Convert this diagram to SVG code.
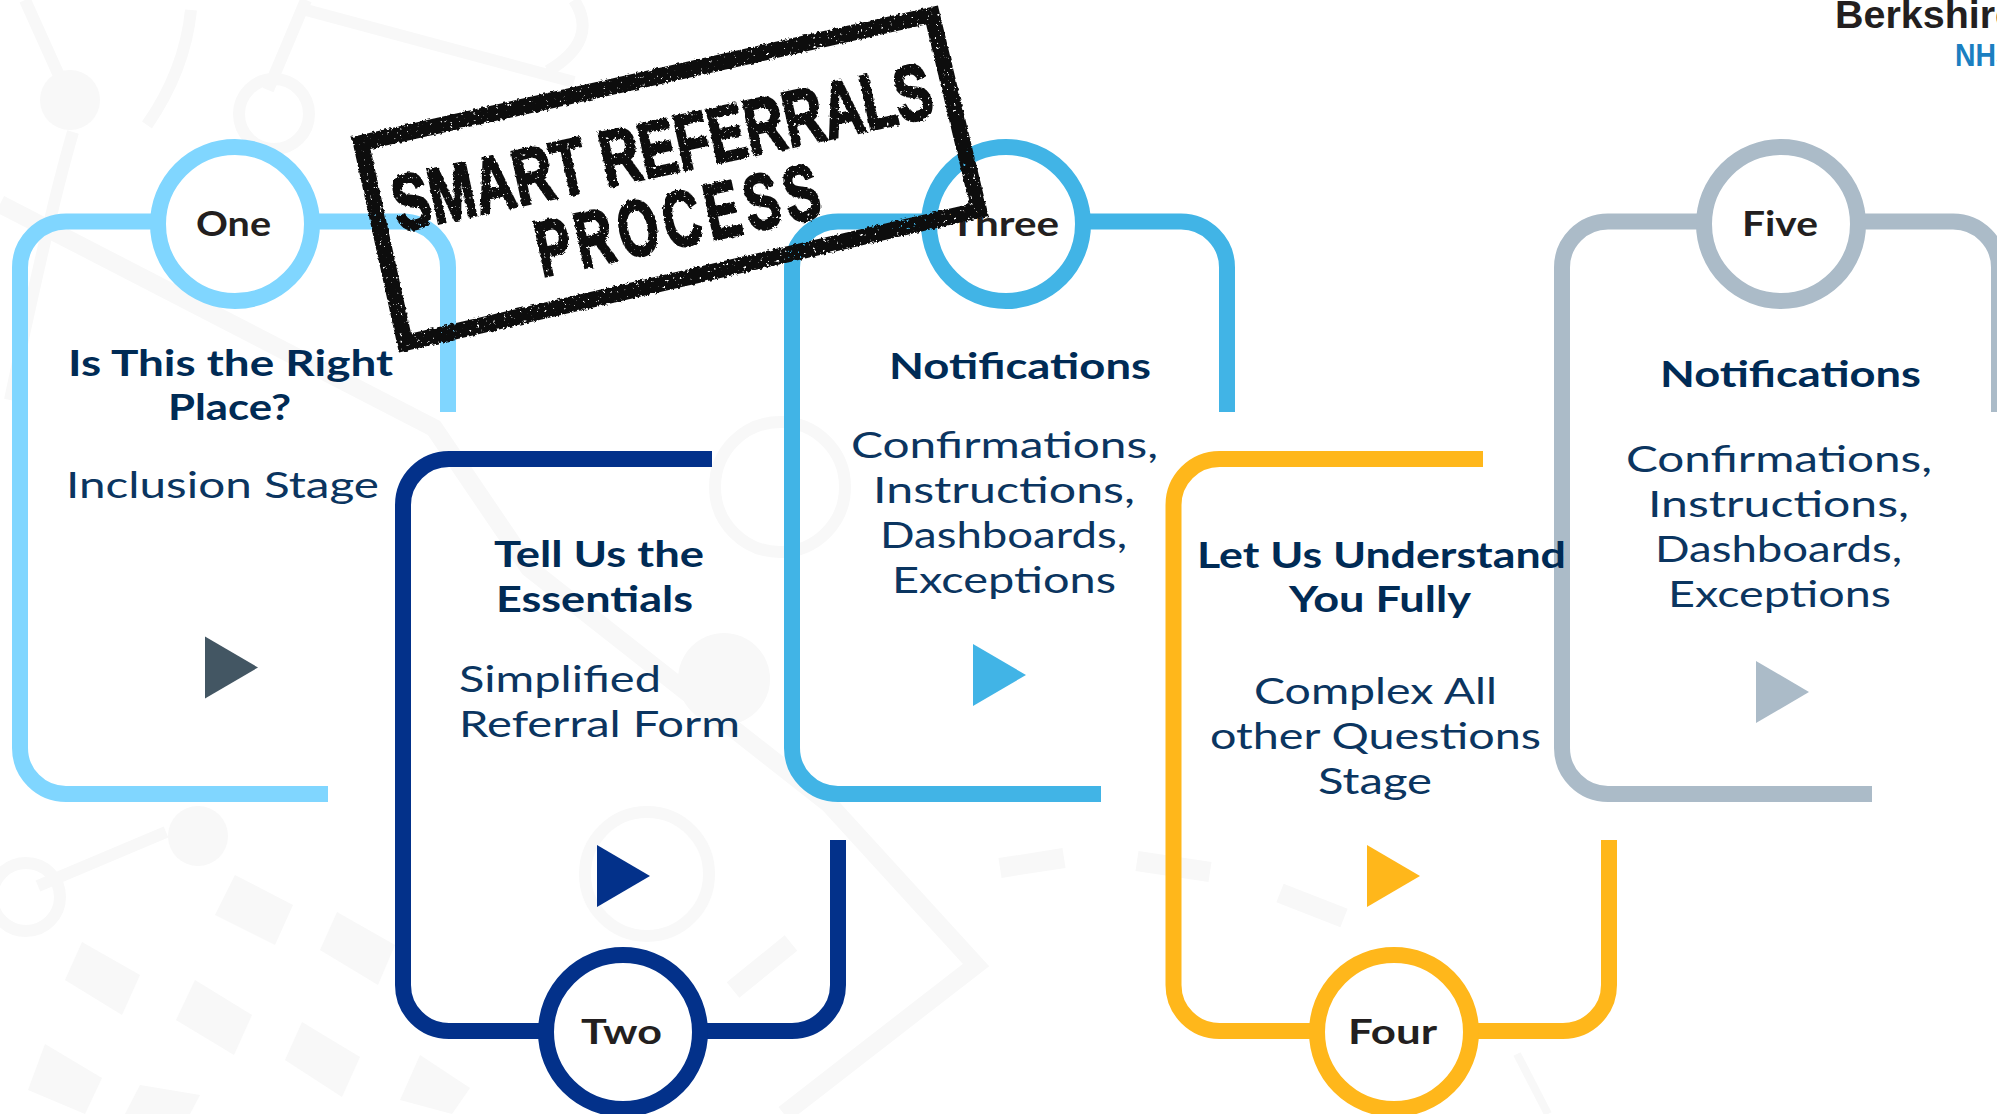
<svg xmlns="http://www.w3.org/2000/svg" width="1997" height="1114" viewBox="0 0 1997 1114">
<style>
.bgl{fill:none;stroke:#f8f8f8;stroke-width:12}
.bgf{fill:#f8f8f8}
.frame{fill:none;stroke-width:16}
.ring{fill:#fff;stroke-width:16}
.lbl{font-family:"Lato","Noto Sans",sans-serif;font-weight:700;font-size:34px;fill:#231f20}
.hd{font-family:"Lato","Noto Sans",sans-serif;font-weight:700;font-size:36px;fill:#002b55}
.bd{font-family:"Lato","Noto Sans",sans-serif;font-weight:400;font-size:37px;fill:#0b3560}
.st{font-family:"Liberation Sans Narrow","Liberation Sans",sans-serif;font-weight:700;font-size:79px;fill:#111;stroke:#111;stroke-width:2.5}
</style>
<defs>
<filter id="rough" x="-5%" y="-5%" width="110%" height="110%">
<feTurbulence type="fractalNoise" baseFrequency="0.3" numOctaves="3" seed="4" result="n"/>
<feDisplacementMap in="SourceGraphic" in2="n" scale="4" result="d"/>
<feColorMatrix in="n" type="matrix" values="0 0 0 0 0 0 0 0 0 0 0 0 0 0 0 9 0 0 0 -6.2" result="t"/>
<feComposite in="d" in2="t" operator="out"/>
</filter>
</defs>
<rect width="1997" height="1114" fill="#fff"/>
<g id="background">
<circle class="bgf" cx="70" cy="100" r="30"/>
<path class="bgl" d="M25 0L70 100M73 132Q50 210 10 400M191 10Q185 70 147 125M306 0L268 90M306 10L574 82M574 0Q600 40 548 71"/>
<ellipse class="bgl" cx="274" cy="114" rx="35" ry="35"/>
<path class="bgl" style="stroke-width:18" d="M0 204L434 428L529 568L829 804L976 965L784 1114"/>
<circle class="bgl" cx="647" cy="874" r="62"/>
<circle class="bgl" cx="780" cy="487" r="65"/>
<circle class="bgf" cx="724" cy="679" r="46"/>
<circle class="bgf" cx="198" cy="836" r="30"/>
<path class="bgl" d="M166 832L38 886"/>
<circle class="bgl" cx="26" cy="897" r="34"/>
<path class="bgl" style="stroke-width:20" d="M791 943L733 990M1000 868L1064 858M1137 861L1210 872M1280 893L1344 918"/>
<path class="bgl" style="stroke-width:8" d="M1517 1054L1548 1114"/>
<g class="bgf">
<path d="M235 875L293 905L275 945L215 915Z"/>
<path d="M337 912L395 945L378 985L320 950Z"/>
<path d="M82 942L140 975L122 1015L65 980Z"/>
<path d="M195 980L252 1015L234 1055L176 1020Z"/>
<path d="M302 1022L360 1057L342 1097L285 1060Z"/>
<path d="M45 1044L102 1078L85 1114L28 1090Z"/>
<path d="M420 1055L470 1088L452 1114L400 1100Z"/>
<path d="M140 1085L200 1095L190 1114L125 1114Z"/>
</g>
</g>
<g id="connectors">
<path class="frame" stroke="#80d6ff" d="M328 794H66A46 46 0 0 1 20 748V267.5A46 46 0 0 1 66 221.5H402A46 46 0 0 1 448 267.5V412"/>
<path class="frame" stroke="#03318a" d="M712 459H449A46 46 0 0 0 403 505V985A46 46 0 0 0 449 1031H792A46 46 0 0 0 838 985V840"/>
<path class="frame" stroke="#41b4e6" d="M1101 794H838A46 46 0 0 1 792 748V267.5A46 46 0 0 1 838 221.5H1181A46 46 0 0 1 1227 267.5V412"/>
<path class="frame" stroke="#ffb71b" d="M1483 459H1219.5A46 46 0 0 0 1173.5 505V985A46 46 0 0 0 1219.5 1031H1563A46 46 0 0 0 1609 985V840"/>
<path class="frame" stroke="#abbbc8" d="M1872 794H1608A46 46 0 0 1 1562 748V267.5A46 46 0 0 1 1608 221.5H1953A46 46 0 0 1 1999 267.5V412"/>
</g>
<g id="node-one">
<circle class="ring" stroke="#80d6ff" cx="235" cy="224" r="77"/>
<text class="lbl" x="196" y="236" textLength="75" lengthAdjust="spacingAndGlyphs">One</text>
<text class="hd" x="68" y="376" textLength="325" lengthAdjust="spacingAndGlyphs">Is This the Right</text>
<text class="hd" x="168" y="420" textLength="123" lengthAdjust="spacingAndGlyphs">Place?</text>
<text class="bd" x="66" y="498" textLength="313" lengthAdjust="spacingAndGlyphs">Inclusion Stage</text>
<path fill="#435663" d="M205 636.5L258 667.5L205 698.5Z"/>
</g>
<g id="node-two">
<circle class="ring" stroke="#03318a" cx="623" cy="1032" r="77"/>
<text class="lbl" x="581" y="1044" textLength="81" lengthAdjust="spacingAndGlyphs">Two</text>
<text class="hd" x="494" y="567" textLength="210" lengthAdjust="spacingAndGlyphs">Tell Us the</text>
<text class="hd" x="496" y="612" textLength="197" lengthAdjust="spacingAndGlyphs">Essentials</text>
<text class="bd" x="459" y="692" textLength="202" lengthAdjust="spacingAndGlyphs">Simplified</text>
<text class="bd" x="459" y="737" textLength="281" lengthAdjust="spacingAndGlyphs">Referral Form</text>
<path fill="#03318a" d="M597 845L650 876L597 907Z"/>
</g>
<g id="node-three">
<circle class="ring" stroke="#41b4e6" cx="1006" cy="224" r="77"/>
<text class="lbl" x="950" y="236" textLength="109" lengthAdjust="spacingAndGlyphs">Three</text>
<text class="hd" x="889" y="379" textLength="262" lengthAdjust="spacingAndGlyphs">Notifications</text>
<text class="bd" x="851" y="458" textLength="307" lengthAdjust="spacingAndGlyphs">Confirmations,</text>
<text class="bd" x="873" y="503" textLength="262" lengthAdjust="spacingAndGlyphs">Instructions,</text>
<text class="bd" x="880" y="548" textLength="247" lengthAdjust="spacingAndGlyphs">Dashboards,</text>
<text class="bd" x="892" y="593" textLength="224" lengthAdjust="spacingAndGlyphs">Exceptions</text>
<path fill="#41b4e6" d="M973 644L1026 675L973 706Z"/>
</g>
<g id="node-four">
<circle class="ring" stroke="#ffb71b" cx="1394" cy="1032" r="77"/>
<text class="lbl" x="1348" y="1044" textLength="89" lengthAdjust="spacingAndGlyphs">Four</text>
<text class="hd" x="1197" y="568" textLength="369" lengthAdjust="spacingAndGlyphs">Let Us Understand</text>
<text class="hd" x="1289" y="612" textLength="182" lengthAdjust="spacingAndGlyphs">You Fully</text>
<text class="bd" x="1254" y="704" textLength="243" lengthAdjust="spacingAndGlyphs">Complex All</text>
<text class="bd" x="1210" y="749" textLength="331" lengthAdjust="spacingAndGlyphs">other Questions</text>
<text class="bd" x="1318" y="794" textLength="114" lengthAdjust="spacingAndGlyphs">Stage</text>
<path fill="#ffb71b" d="M1367 845L1420 876L1367 907Z"/>
</g>
<g id="node-five">
<circle class="ring" stroke="#abbbc8" cx="1781" cy="224" r="77"/>
<text class="lbl" x="1742" y="236" textLength="76" lengthAdjust="spacingAndGlyphs">Five</text>
<text class="hd" x="1660" y="387" textLength="261" lengthAdjust="spacingAndGlyphs">Notifications</text>
<text class="bd" x="1626" y="472" textLength="306" lengthAdjust="spacingAndGlyphs">Confirmations,</text>
<text class="bd" x="1648" y="517" textLength="261" lengthAdjust="spacingAndGlyphs">Instructions,</text>
<text class="bd" x="1655" y="562" textLength="247" lengthAdjust="spacingAndGlyphs">Dashboards,</text>
<text class="bd" x="1668" y="607" textLength="223" lengthAdjust="spacingAndGlyphs">Exceptions</text>
<path fill="#abbbc8" d="M1756 661L1809 692L1756 723Z"/>
</g>
<g id="stamp">
<g filter="url(#rough)">
<path d="M361 143L932 15L979 210L405 343Z" fill="none" stroke="#111" stroke-width="16"/>
<text class="st" transform="translate(399 232) rotate(-12.2)" textLength="550" lengthAdjust="spacingAndGlyphs">SMART REFERRALS</text>
<text class="st" transform="translate(542 277) rotate(-12.2)" textLength="294" lengthAdjust="spacingAndGlyphs" letter-spacing="8">PROCESS</text>
</g>
</g>
<g id="logo">
<text x="1835" y="28" font-family="'Liberation Sans Narrow','Liberation Sans',sans-serif" font-weight="700" font-size="38" fill="#231f20" textLength="182" lengthAdjust="spacingAndGlyphs">Berkshire</text>
<text x="1955" y="66" font-family="'Liberation Sans Narrow','Liberation Sans',sans-serif" font-weight="700" font-size="32" fill="#1b7fc1" textLength="60" lengthAdjust="spacingAndGlyphs">NHS</text>
</g>
</svg>
